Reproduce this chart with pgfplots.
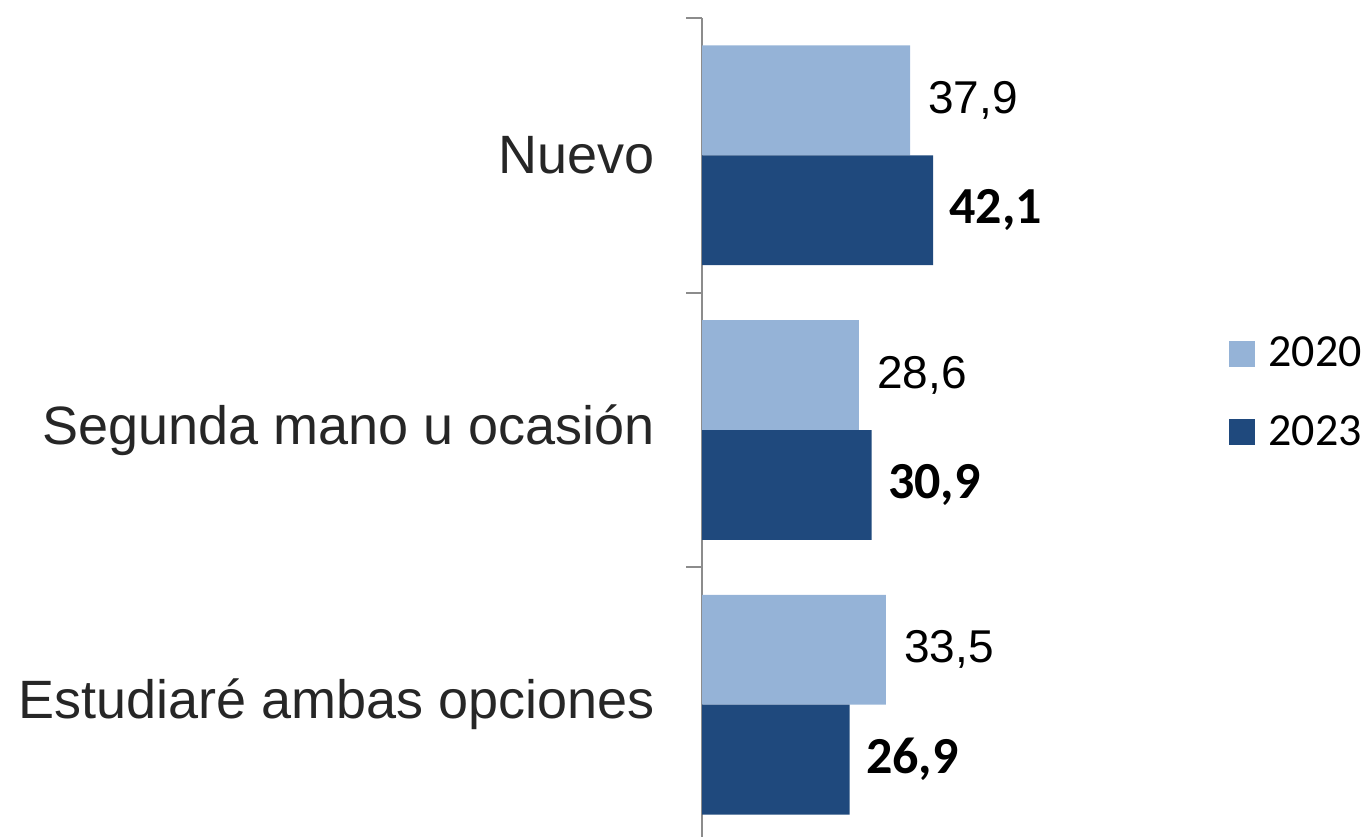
\documentclass[border=0pt]{standalone}
\usepackage{pgfplots}
\pgfplotsset{compat=1.18}
\usepackage{fontspec}
\setmainfont{Liberation Sans}
\newfontfamily\carlito{Carlito}
\definecolor{c2020}{HTML}{95B3D7}
\definecolor{c2023}{HTML}{1F497D}
\definecolor{axgray}{HTML}{8C8C8C}
\begin{document}
\begin{tikzpicture}
\useasboundingbox (0,0) rectangle (685pt,-418pt);
\begin{axis}[
  at={(351pt,-9pt)}, anchor=north west,
  scale only axis, width=247pt, height=412pt,
  xbar, bar width=0.4,
  xmin=0, xmax=90, ymin=-0.5, ymax=2.5, y dir=reverse,
  axis x line=none, axis y line*=left,
  y axis line style={draw=axgray, line width=1pt},
  ytick={-0.5,0.5,1.5,2.5}, yticklabels={},
  tick align=outside, major tick length=8pt,
  ytick style={draw=axgray, line width=1pt},
  extra y ticks={0,1,2},
  extra y tick labels={Nuevo, Segunda mano u ocasión, Estudiaré ambas opciones},
  extra y tick style={major tick length=0pt, tick style={draw=none}},
  yticklabel style={font=\fontsize{27}{27}\selectfont, inner sep=0pt, xshift=-23.5pt, text=black!85},
  point meta=explicit symbolic,
  legend image code/.code={\fill[#1] (0pt,-6.5pt) rectangle (13pt,6.5pt);},
  legend style={at={(1.067,0.545)}, anchor=west, draw=none, fill=none, inner sep=0pt,
    font=\carlito\fontsize{23}{23}\selectfont, nodes={inner sep=0pt},
    row sep=23pt, column sep=6.5pt},
  legend cell align=left,
]
\addplot[fill=c2020, draw=none, bar shift=-0.2,
  nodes near coords,
  every node near coord/.append style={anchor=west, inner sep=0pt, xshift=9pt, font=\fontsize{23}{23}\selectfont, text=black}]
  coordinates {(37.9,0) [37,9] (28.6,1) [28,6] (33.5,2) [33,5]};
\addplot[fill=c2023, draw=none, bar shift=0.2,
  nodes near coords,
  every node near coord/.append style={anchor=west, inner sep=0pt, xshift=8pt, font=\carlito\bfseries\fontsize{26}{26}\selectfont, text=black}]
  coordinates {(42.1,0) [42,1] (30.9,1) [30,9] (26.9,2) [26,9]};
\legend{2020,2023}
\end{axis}
\end{tikzpicture}
\end{document}
